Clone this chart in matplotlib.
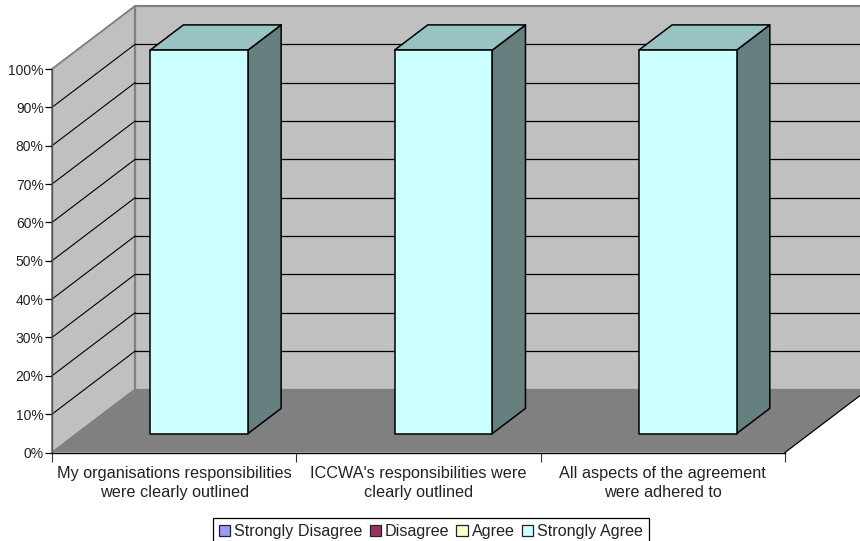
import matplotlib
matplotlib.use("Agg")
import matplotlib.pyplot as plt
from matplotlib.patches import Patch, Polygon

plt.rcParams["font.family"] = ["Liberation Sans", "DejaVu Sans"]

# Survey responses, percent of respondents per statement
categories = [
    "My organisations responsibilities\nwere clearly outlined",
    "ICCWA's responsibilities were\nclearly outlined",
    "All aspects of the agreement\nwere adhered to",
]
series_names = ["Strongly Disagree", "Disagree", "Agree", "Strongly Agree"]
strongly_disagree = [0, 0, 0]
disagree = [0, 0, 0]
agree = [0, 0, 0]
strongly_agree = [100, 100, 100]
series_values = [strongly_disagree, disagree, agree, strongly_agree]
y_ticks = list(range(0, 101, 10))
y_tick_labels = [f"{v}%" for v in y_ticks]

front_colors = ["#9999FF", "#993366", "#FFFFCC", "#CCFFFF"]
top_colors = ["#7A7ACC", "#7A2952", "#CCCCA3", "#99C2C2"]
side_colors = ["#5C5C99", "#5C1F3D", "#99997A", "#668080"]
WALL = "#C0C0C0"
FLOOR = "#808080"
EDGE = "#808080"

W, H = 860, 541
fig = plt.figure(figsize=(W / 100, H / 100), dpi=100, facecolor="white")

# Front plane of the 3D box, in figure pixels
LEFT, RIGHT, BOTTOM, TOP = 52, 785, 452.5, 69
ax = fig.add_axes([LEFT / W, 1 - BOTTOM / H, (RIGHT - LEFT) / W, (BOTTOM - TOP) / H])
n = len(categories)
ax.set_xlim(0, n)
ax.set_ylim(0, 100)
ax.patch.set_visible(False)

# Oblique projection: a point at depth d in [0, 1] shifts right and up
DX = 83 / (RIGHT - LEFT) * n
DY = 63 / (BOTTOM - TOP) * 100


def proj(x, y, d=0.0):
    return x + DX * d, y + DY * d


def face(points, color, edge, lw=1.0, z=1):
    ax.add_patch(Polygon([proj(*p) for p in points], closed=True, facecolor=color,
                         edgecolor=edge, linewidth=lw, clip_on=False, zorder=z,
                         joinstyle="round"))


# Walls and floor
face([(0, 0, 0), (0, 100, 0), (0, 100, 1), (0, 0, 1)], WALL, EDGE, 1.2, 1)
face([(0, 0, 1), (0, 100, 1), (n, 100, 1), (n, 0, 1)], WALL, EDGE, 1.6, 1)
face([(0, 0, 0), (n, 0, 0), (n, 0, 1), (0, 0, 1)], FLOOR, "none", 0, 2)

# Gridlines run along the side wall, then across the back wall
for v in y_ticks[1:]:
    xs, ys = zip(proj(0, v, 0), proj(0, v, 1), proj(n, v, 1))
    is_top = v == 100
    ax.plot(xs[:2], ys[:2], color=EDGE if is_top else "black", lw=1.0 if is_top else 0.8,
            clip_on=False, zorder=1.5)
    if not is_top:
        ax.plot(xs[1:], ys[1:], color="black", lw=0.9, clip_on=False, zorder=1.5)

# Floor edges
ax.plot(*zip(proj(0, 0, 0), proj(0, 0, 1)), color=EDGE, lw=1.0, clip_on=False, zorder=3)
ax.plot(*zip(proj(n, 0, 0), proj(n, 0, 1)), color="black", lw=0.9, clip_on=False, zorder=3)

# Stacked 3D columns
BAR_W = 0.40
D0, D1 = 0.30, 0.70
for i in range(n):
    x0 = i + 0.5 - BAR_W / 2
    x1 = x0 + BAR_W
    base = 0
    for vals, fc, tc, sc in zip(series_values, front_colors, top_colors, side_colors):
        v = vals[i]
        if v <= 0:
            continue
        top = base + v
        z = 5 + i
        face([(x1, base, D0), (x1, base, D1), (x1, top, D1), (x1, top, D0)], sc, "black", 1.1, z)
        face([(x0, top, D0), (x1, top, D0), (x1, top, D1), (x0, top, D1)], tc, "black", 1.1, z)
        face([(x0, base, D0), (x1, base, D0), (x1, top, D0), (x0, top, D0)], fc, "black", 1.1, z)
        base = top

# Axes furniture
for s in ("top", "right"):
    ax.spines[s].set_visible(False)
ax.spines["left"].set_color("#555555")
ax.spines["left"].set_linewidth(1.0)
ax.spines["bottom"].set_color("black")
ax.spines["bottom"].set_linewidth(1.0)
for s in ax.spines.values():
    s.set_zorder(4)

ax.set_yticks(y_ticks, y_tick_labels)
ax.tick_params(axis="y", length=5, width=0.9, pad=1.0, labelsize=10.0, labelcolor="#222222")
ax.set_xticks(range(n + 1), [""] * (n + 1))
ax.tick_params(axis="x", which="major", length=6.5, width=0.8, color="#333333")
ax.set_xticks([i + 0.5 for i in range(n)], categories, minor=True)
ax.tick_params(axis="x", which="minor", length=0, pad=10, labelsize=11.7, labelcolor="#222222")
for lab in ax.get_xticklabels(minor=True):
    lab.set_linespacing(1.3)

handles = [Patch(facecolor=c, edgecolor="#222222", linewidth=0.9) for c in front_colors]
leg = fig.legend(handles, series_names, loc="upper left",
                 bbox_to_anchor=(213 / W, 1 - 518 / H), ncols=4, fontsize=11.6,
                 fancybox=False, framealpha=1, edgecolor="black",
                 handlelength=0.7, handleheight=0.7, handletextpad=0.25,
                 columnspacing=0.44, borderpad=0.36, borderaxespad=0.0)
leg.get_frame().set_linewidth(0.9)
for t in leg.get_texts():
    t.set_color("#222222")

fig.savefig("out.png", dpi=100, facecolor="white")
